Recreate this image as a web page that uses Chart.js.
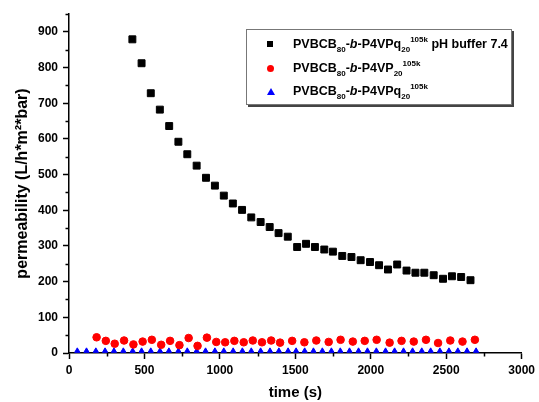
<!DOCTYPE html>
<html>
<head>
<meta charset="utf-8">
<script src="https://cdn.jsdelivr.net/npm/chart.js@4"></script>
<style>
  body { margin: 0; background: #fff; }
  #wrap { position: relative; width: 539px; height: 402px; }
  #legend {
    position: absolute; left: 246px; top: 29px; width: 264px; height: 74px;
    border: 1px solid #777; box-shadow: 2px 2px 0 #444; background: #fff;
    font-family: Arial, "Liberation Sans", sans-serif; font-weight: bold; font-size: 12.5px; color: #000;
  }
  .row { position: absolute; left: 0; height: 20px; line-height: 20px; white-space: nowrap; }
  .mk { position: absolute; left: 19px; top: 6px; width: 8px; height: 8px; }
  .txt { position: absolute; left: 46px; top: 0; }
  .txt sub { font-size: 8px; vertical-align: -4px; line-height: 0; }
  .txt sup { font-size: 8px; vertical-align: 6px; line-height: 0; }
</style>
</head>
<body>
<div id="wrap">
  <canvas id="permChart" width="539" height="402"></canvas>
  <div id="legend">
    <div class="row" style="top:4px"><span class="mk" style="left:20px;top:7px;width:6px;height:6px;background:#000"></span><span class="txt">PVBCB<sub>80</sub>-<i>b</i>-P4VPq<sub>20</sub><sup>105k</sup> pH buffer 7.4</span></div>
    <div class="row" style="top:28px"><span class="mk" style="left:20px;top:7px;width:7px;height:7px;border-radius:50%;background:#ff0000"></span><span class="txt">PVBCB<sub>80</sub>-<i>b</i>-P4VP<sub>20</sub><sup>105k</sup></span></div>
    <div class="row" style="top:51px"><span class="mk" style="left:20px;top:7px;width:0;height:0;border-left:4px solid transparent;border-right:4px solid transparent;border-bottom:7px solid #0000ff"></span><span class="txt">PVBCB<sub>80</sub>-<i>b</i>-P4VPq<sub>20</sub><sup>105k</sup></span></div>
  </div>
</div>
<script>
// data
const bufferTime = [420, 481, 542, 602, 664, 725, 784, 846, 908, 967, 1026, 1086, 1147, 1208, 1270, 1330, 1389, 1450, 1512, 1571, 1630, 1692, 1749, 1811, 1872, 1933, 1995, 2055, 2114, 2175, 2237, 2296, 2355, 2417, 2479, 2538, 2599, 2661];
const bufferPerm = [879, 812, 728, 682, 636, 592, 557, 525, 491, 469, 441, 419, 401, 380, 367, 353, 336, 326, 297, 306, 297, 290, 284, 272, 269, 260, 255, 246, 234, 248, 231, 225, 225, 218, 208, 215, 213, 204];

const p4vpTime = [183, 244, 303, 365, 427, 488, 549, 611, 670, 732, 793, 852, 914, 976, 1035, 1096, 1158, 1218, 1279, 1340, 1399, 1479, 1560, 1639, 1721, 1800, 1881, 1960, 2039, 2125, 2204, 2285, 2366, 2446, 2527, 2608, 2690];
const p4vpPerm = [44, 34, 26, 35, 24, 32, 37, 23, 34, 22, 42, 20, 43, 31, 30, 34, 30, 35, 30, 35, 29, 34, 30, 35, 31, 37, 32, 34, 37, 29, 34, 32, 37, 28, 35, 32, 37];

const p4vpqTime = [55, 116, 178, 239, 298, 360, 422, 481, 542, 603, 662, 725, 784, 846, 905, 967, 1026, 1088, 1149, 1208, 1270, 1332, 1391, 1452, 1505, 1562, 1620, 1679, 1739, 1798, 1859, 1919, 1978, 2037, 2098, 2158, 2217, 2277, 2338, 2397, 2458, 2518, 2577, 2638, 2698];
const p4vpqPerm = [6, 6, 6, 6, 6, 6, 6, 6, 6, 6, 6, 6, 6, 6, 6, 6, 6, 6, 6, 6, 6, 6, 6, 6, 6, 6, 6, 6, 6, 6, 6, 6, 6, 6, 6, 6, 6, 6, 6, 6, 6, 6, 6, 6, 6];

// axis ticks
const xMajor = [0, 500, 1000, 1500, 2000, 2500, 3000];
const xMinor = [250, 750, 1250, 1750, 2250, 2750];
const yMajor = [0, 100, 200, 300, 400, 500, 600, 700, 800, 900];
const yMinor = [50, 150, 250, 350, 450, 550, 650, 750, 850, 950];

const toPoints = (xs, ys) => xs.map((x, i) => ({ x: x, y: ys[i] }));

// minor ticks drawn against the chart's own scales
const minorTicks = {
    id: 'minorTicks',
    afterDraw(chart) {
        const { ctx, chartArea, scales: { x, y } } = chart;
        ctx.save();
        ctx.strokeStyle = '#000';
        ctx.lineWidth = 1.5;
        ctx.beginPath();
        xMinor.forEach(v => {
            const px = Math.round(x.getPixelForValue(v)) + 0.5;
            ctx.moveTo(px, chartArea.bottom);
            ctx.lineTo(px, chartArea.bottom + 3.5);
        });
        yMinor.forEach(v => {
            const py = Math.round(y.getPixelForValue(v)) + 0.5;
            ctx.moveTo(chartArea.left, py);
            ctx.lineTo(chartArea.left - 3.5, py);
        });
        ctx.stroke();
        ctx.restore();
    }
};

Chart.defaults.font.family = 'Arial, "Liberation Sans", sans-serif';
Chart.defaults.font.weight = 'bold';
Chart.defaults.color = '#000';

new Chart(document.getElementById('permChart').getContext('2d'), {
    type: 'scatter',
    data: {
        datasets: [
            {
                label: 'PVBCB80-b-P4VPq20 105k pH buffer 7.4',
                data: toPoints(bufferTime, bufferPerm),
                pointStyle: 'rect',
                pointRadius: 4.9,
                backgroundColor: '#000',
                borderColor: '#000',
                borderWidth: 1
            },
            {
                label: 'PVBCB80-b-P4VP20 105k',
                data: toPoints(p4vpTime, p4vpPerm),
                pointStyle: 'circle',
                pointRadius: 3.8,
                backgroundColor: '#ff0000',
                borderColor: '#ff0000',
                borderWidth: 1
            },
            {
                label: 'PVBCB80-b-P4VPq20 105k',
                data: toPoints(p4vpqTime, p4vpqPerm),
                pointStyle: 'triangle',
                pointRadius: 3,
                backgroundColor: '#0000ff',
                borderColor: '#0000ff',
                borderWidth: 1
            }
        ]
    },
    options: {
        responsive: false,
        animation: false,
        layout: { padding: { top: 14, right: 13, left: 0, bottom: 0 } },
        plugins: {
            legend: { display: false },
            tooltip: { enabled: false }
        },
        scales: {
            x: {
                type: 'linear',
                min: 0,
                max: 3000,
                afterFit: scale => { scale.height = 49; },
                afterBuildTicks: axis => { axis.ticks = xMajor.map(v => ({ value: v })); },
                border: { display: true, color: '#000', width: 1.5 },
                grid: { display: true, drawOnChartArea: false, drawTicks: true, tickLength: 6, tickColor: '#000', tickWidth: 1.5 },
                ticks: { font: { size: 12, weight: 'bold' }, padding: 4, maxRotation: 0, callback: v => String(v) },
                title: { display: true, text: 'time (s)', font: { size: 15, weight: 'bold', lineHeight: 1.2 }, padding: { top: 0, bottom: 0 } }
            },
            y: {
                type: 'linear',
                min: 0,
                max: 950,
                afterFit: scale => { scale.width = 69; },
                afterBuildTicks: axis => { axis.ticks = yMajor.map(v => ({ value: v })); },
                border: { display: true, color: '#000', width: 1.5 },
                grid: { display: true, drawOnChartArea: false, drawTicks: true, tickLength: 6, tickColor: '#000', tickWidth: 1.5 },
                ticks: { font: { size: 12, weight: 'bold' }, padding: 5, callback: v => String(v) },
                title: { display: true, text: 'permeability (L/h*m²*bar)', font: { size: 16, weight: 'bold', lineHeight: 1.2 }, padding: { top: 13, bottom: 0 } }
            }
        }
    },
    plugins: [minorTicks]
});
</script>
</body>
</html>
